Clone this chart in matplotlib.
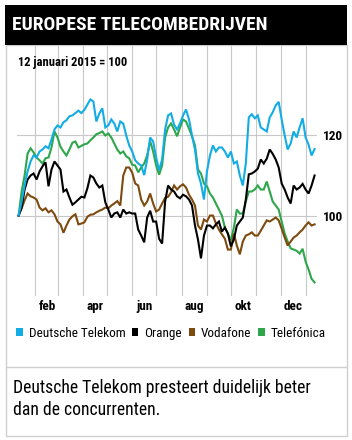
import os
import numpy as np
import pandas as pd
import matplotlib
matplotlib.use('Agg')
import matplotlib.pyplot as plt
from matplotlib import font_manager
from matplotlib.font_manager import FontProperties
from matplotlib.patches import Rectangle, Patch
from matplotlib.lines import Line2D

deutsche_telekom = [
    100, 103.5, 107.5, 111, 113.5, 115, 114.5, 116, 116.5, 117.3,
    116.8, 119, 121.5, 122.5, 122, 123.3, 123.8, 124.8, 125, 125.6,
    126.2, 125.6, 126.4, 127.7, 129, 128.5, 123.5, 125.5, 126.8, 122,
    122.5, 124, 123, 121, 123.5, 123, 120, 117.5, 116, 113.8,
    113, 112.5, 110.1, 114, 119.5, 118.5, 114.5, 111.3, 114, 121.5,
    125, 125.5, 122.7, 121.5, 123, 125, 126.5, 124, 120, 116.5,
    110.5, 108, 104, 111, 115, 117.5, 116, 117, 117, 116,
    114.5, 116, 113, 113.5, 110, 107.5, 113, 124.5, 125.3, 124.3,
    125, 122, 121.5, 121, 124.5, 125.8, 127.5, 128.4, 124, 120,
    116.5, 118, 121, 119.5, 122, 124.3, 119.5, 117.7, 115, 116.6,
]
orange = [
    100, 102, 106.5, 109, 110, 110.5, 109, 111, 112.3, 113.3,
    107.3, 111.5, 113.5, 112.5, 111.5, 106, 106.5, 104.5, 102.7, 103.3,
    104, 104.7, 104.5, 106.8, 110, 109.5, 108, 107, 107.5, 103.3,
    101.5, 99.5, 100.5, 100.8, 99.5, 101.5, 100.5, 100.8, 100.5, 100.5,
    96.5, 95, 93.3, 99.5, 101.2, 98.5, 98.5, 94.2, 93, 103.5,
    107.5, 106.5, 106, 104.8, 104.3, 105.2, 104.8, 104, 102.5, 97.5,
    94, 89.3, 95, 97.5, 97.5, 96.8, 97.8, 98.5, 96, 97,
    95.5, 92.3, 94, 97.5, 98.5, 99.5, 104, 110.3, 110.5, 111,
    111.7, 114, 113, 114.2, 116.5, 115.4, 114, 112, 108, 106.5,
    104.5, 103, 107.5, 106.5, 107, 107.9, 106.5, 105.5, 107.5, 110,
]
vodafone = [
    100, 101.8, 103.8, 105.5, 104.8, 104.5, 104, 102, 101.3, 101.8,
    100.8, 101.3, 100.3, 98.5, 97.8, 95.7, 97.5, 99, 99.8, 100.3,
    97.8, 98, 98.3, 99.7, 100.2, 100.3, 100.8, 101.2, 101.5, 102,
    101.8, 102.5, 103, 103.6, 102.5, 110, 112, 112, 110.7, 108,
    107.5, 104, 102.5, 103.5, 105.5, 103, 101, 101.5, 103, 104.4,
    104.7, 105.8, 107.5, 106.5, 107.3, 107.8, 107, 105.2, 104, 102.5,
    97.5, 96.5, 99, 98.5, 100, 100, 98, 96.5, 95.3, 94.2,
    91.5, 91.5, 95.5, 92.5, 90.3, 93.5, 95, 95.3, 95.8, 95,
    95, 96.2, 97.5, 98.8, 98.5, 99, 99.5, 98.8, 96.7, 94.5,
    92.5, 93.5, 94.5, 95, 95.8, 96.5, 97.5, 98.3, 97.5, 97.8,
]
telefonica = [
    100, 106, 110, 115.5, 116.8, 115.8, 114.5, 113.8, 113, 114.3,
    114.5, 117, 121, 119.5, 117.2, 116, 115, 116.5, 118.2, 118.5,
    117, 117.4, 117.8, 118, 118.8, 119.5, 120.3, 120.6, 121, 120,
    120.5, 119.5, 118, 116.5, 115.5, 116, 114.8, 114.3, 112.7, 112.5,
    110.8, 112, 113, 115, 118.6, 116, 112.5, 110.2, 112.5, 119.5,
    122, 123, 121.5, 119.8, 122, 124, 123.5, 121.7, 119.8, 117.5,
    111.5, 110.5, 108, 107.3, 105.5, 104.5, 103, 101.5, 100, 97,
    95.5, 93.8, 97, 101.5, 100.5, 100.5, 103.5, 106, 106, 106.5,
    107.5, 106.5, 106.5, 108.5, 106, 103.5, 102.5, 101.5, 98.5, 95.5,
    93.5, 91.8, 91.5, 91.2, 90.5, 91.7, 88.5, 86.5, 84.2, 83.3,
]

series_names = ['Deutsche Telekom', 'Orange', 'Vodafone', 'Telefónica']
series_values = [deutsche_telekom, orange, vodafone, telefonica]
series_colors = ['#13ace4', '#000000', '#7d4a10', '#2ea64a']
month_labels = ['feb', 'apr', 'jun', 'aug', 'okt', 'dec']
label_months = ['2015-02-16', '2015-04-16', '2015-06-16', '2015-08-16', '2015-10-16', '2015-12-16']
y_ticks = [100, 120]

dates = pd.date_range('2015-01-12', '2016-01-12', periods=len(deutsche_telekom))


# een smalle letter zoeken, anders Roboto
def pick_font(bold):
    if bold:
        wanted = ['LiberationSansNarrow-Bold', 'RobotoCondensed-Bold', 'DejaVuSansCondensed-Bold',
                  'NotoSans-CondensedBold', 'OpenSans-CondBold', 'OpenSans_Condensed-Bold']
    else:
        wanted = ['LiberationSansNarrow-Regular', 'RobotoCondensed-Regular', 'DejaVuSansCondensed',
                  'NotoSans-Condensed', 'OpenSans_Condensed-Regular']
    files = {os.path.splitext(os.path.basename(f.fname))[0]: f.fname
             for f in font_manager.fontManager.ttflist}
    for w in wanted:
        if w in files:
            return FontProperties(fname=files[w])
    return FontProperties(family='Roboto', weight='bold' if bold else 'normal')


fp_bold = pick_font(True)
fp_reg = pick_font(False)

W, H = 352, 440
fig = plt.figure(figsize=(W / 100, H / 100), dpi=100)
renderer = fig.canvas.get_renderer()


def fx(px):
    return px / W


def fy(py):
    return 1 - py / H


def fit_size(s, fp, target_px, max_size):
    # lettergrootte zo kiezen dat de tekst ongeveer even breed is als in het voorbeeld
    t = fig.text(0, 0, s, fontproperties=fp, fontsize=10)
    w = t.get_window_extent(renderer).width
    t.remove()
    return min(max_size, 10 * target_px / w)


# kader, kopbalk en scheidingslijn
grey = '#cfcfcf'
fig.add_artist(Rectangle((fx(5.5), fy(435.5)), fx(346.5) - fx(5.5), (435.5 - 45) / H,
                         transform=fig.transFigure, fill=False, edgecolor=grey, lw=1))
fig.add_artist(Rectangle((fx(5), fy(45)), fx(347) - fx(5), 40 / H,
                         transform=fig.transFigure, facecolor='black', edgecolor='none'))
fig.add_artist(Line2D([fx(6), fx(346)], [fy(366.5), fy(366.5)],
                      transform=fig.transFigure, color=grey, lw=1))

title = 'EUROPESE TELECOMBEDRIJVEN'
fig.text(fx(12), fy(25.5), title, color='white', fontproperties=fp_bold,
         fontsize=fit_size(title, fp_bold, 265, 14), va='center')
sub = '12 januari 2015 = 100'
fig.text(fx(18), fy(62.5), sub, color='black', fontproperties=fp_bold,
         fontsize=fit_size(sub, fp_bold, 112, 9), va='center')

ax = fig.add_axes([fx(17), fy(296), fx(317) - fx(17), (296 - 45) / H])
ax.patch.set_alpha(0)

for name, vals, col in reversed(list(zip(series_names, series_values, series_colors))):
    ax.plot(dates, vals, color=col, lw=1.5, solid_joinstyle='miter')

ax.set_xlim(pd.Timestamp('2015-01-10'), pd.Timestamp('2016-01-15'))
ax.set_ylim(79.9, 142.6)

label_size = fit_size('aug', fp_bold, 20.5, 9.5)
ax.set_xticks(pd.date_range('2015-02-01', '2016-01-01', freq='MS'))
ax.set_xticklabels([])
ax.set_yticks(y_ticks)
ax.yaxis.tick_right()
ax.set_yticklabels([str(t) for t in y_ticks], fontproperties=fp_bold, fontsize=label_size)
ax.tick_params(length=0, pad=4.5)
ax.grid(True, color='#c8c8c8', lw=0.8)
ax.set_axisbelow(True)
for s in ax.spines.values():
    s.set_visible(False)

for lab, d in zip(month_labels, label_months):
    ax.text(pd.Timestamp(d), -0.04, lab, transform=ax.get_xaxis_transform(),
            ha='center', va='center', fontproperties=fp_bold, fontsize=label_size)

leg_size = fit_size('Deutsche Telekom', fp_reg, 97, 9.5)
leg_fp = fp_reg.copy()
leg_fp.set_size(leg_size)
handles = [Patch(facecolor=c, edgecolor='none') for c in series_colors]
fig.legend(handles, series_names, loc='center left', bbox_to_anchor=(fx(16), fy(333)),
           ncol=4, frameon=False, handlelength=0.5, handleheight=0.5,
           handletextpad=0.45, columnspacing=0.5, borderpad=0, borderaxespad=0,
           prop=leg_fp)

line1 = 'Deutsche Telekom presteert duidelijk beter'
fig.text(fx(13), fy(399), line1 + '\ndan de concurrenten.', fontproperties=fp_reg,
         fontsize=fit_size(line1, fp_reg, 306, 12.7), va='center', linespacing=1.25)

fig.savefig('out.png', dpi=100)
